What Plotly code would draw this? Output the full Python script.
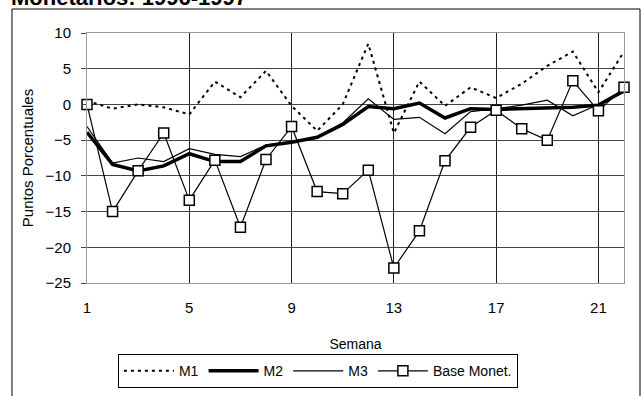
import plotly.graph_objects as go

# Semanas 1..22
semanas = list(range(1, 23))

m1 = [0.5, -0.6, 0.0, -0.4, -1.4, 3.2, 1.0, 4.7, -0.2, -3.7, 0.0, 8.5,
      -4.0, 3.2, -0.2, 2.4, 0.9, 2.9, 5.4, 7.4, 1.7, 7.4]
m2 = [-3.9, -8.4, -9.3, -8.6, -6.9, -8.0, -8.0, -5.8, -5.3, -4.6, -2.8, -0.3,
      -0.6, 0.2, -1.9, -0.6, -0.7, -0.6, -0.5, -0.4, -0.1, 1.9]
m3 = [-3.1, -8.2, -7.5, -8.0, -6.2, -7.0, -7.3, -5.7, -5.2, -4.6, -2.6, 0.8,
      -2.1, -1.8, -4.1, -1.0, -0.6, -0.1, 0.6, -1.6, 0.0, 1.7]
base_monet = [0.0, -15.0, -9.3, -4.0, -13.4, -7.8, -17.2, -7.7, -3.1, -12.2, -12.5, -9.2,
              -22.9, -17.7, -7.9, -3.2, -0.8, -3.4, -5.0, 3.3, -0.9, 2.4]

x_ticks = [1, 5, 9, 13, 17, 21]
y_ticks = [10, 5, 0, -5, -10, -15, -20, -25]

font_fam = "Liberation Sans, Arial, sans-serif"

fig = go.Figure()
fig.add_trace(go.Scatter(x=semanas, y=m1, name="M1", mode="lines",
                         line=dict(color="black", width=2, dash="3px,4px")))
fig.add_trace(go.Scatter(x=semanas, y=m2, name="M2", mode="lines",
                         line=dict(color="black", width=3.5)))
fig.add_trace(go.Scatter(x=semanas, y=m3, name="M3", mode="lines",
                         line=dict(color="black", width=1.2)))
fig.add_trace(go.Scatter(x=semanas, y=base_monet, name="Base Monet.", mode="lines+markers",
                         line=dict(color="black", width=1.2),
                         marker=dict(symbol="square", size=10, color="white",
                                     line=dict(color="black", width=1.5)),
                         cliponaxis=False))

fig.update_layout(
    width=641, height=396,
    margin=dict(l=87, r=17, t=33, b=113, autoexpand=False),
    paper_bgcolor="white", plot_bgcolor="white",
    font=dict(family=font_fam, size=14, color="black"),
    showlegend=True,
    legend=dict(orientation="h", x=0.43, xanchor="center", y=-0.285, yanchor="top",
                bordercolor="black", borderwidth=1, bgcolor="white",
                font=dict(family=font_fam, size=14),
                itemwidth=50, tracegroupgap=0),
    xaxis=dict(range=[1, 22], tickvals=x_ticks, showgrid=True, gridcolor="#222",
               gridwidth=1, zeroline=False, showline=True, linecolor="#999",
               mirror=True, ticks="", tickfont=dict(size=15), automargin=False,
               ticklabelstandoff=11,
               title=dict(text="Semana", standoff=24, font=dict(size=14))),
    yaxis=dict(range=[-25, 10], tickvals=y_ticks, showgrid=True, gridcolor="#444",
               gridwidth=1, zeroline=False, showline=True, linecolor="#999",
               mirror=True, ticks="outside", ticklen=5, tickcolor="#444",
               tickfont=dict(size=15), automargin=False, ticklabelstandoff=7,
               title=dict(text="Puntos Porcentuales", standoff=8,
                          font=dict(size=15))),
    shapes=[dict(type="rect", xref="paper", yref="paper",
                 x0=-0.1397, x1=1.0298, y0=-0.5, y1=1.096,
                 line=dict(color="black", width=1), fillcolor="rgba(0,0,0,0)",
                 layer="below")],
    annotations=[dict(text="<b>Monetarios: 1996-1997</b>", xref="paper", yref="paper",
                      x=-0.145, xanchor="left", y=1.085, yanchor="bottom",
                      showarrow=False,
                      font=dict(family=font_fam, size=22, color="black"))],
)

fig.write_html("out.html")
